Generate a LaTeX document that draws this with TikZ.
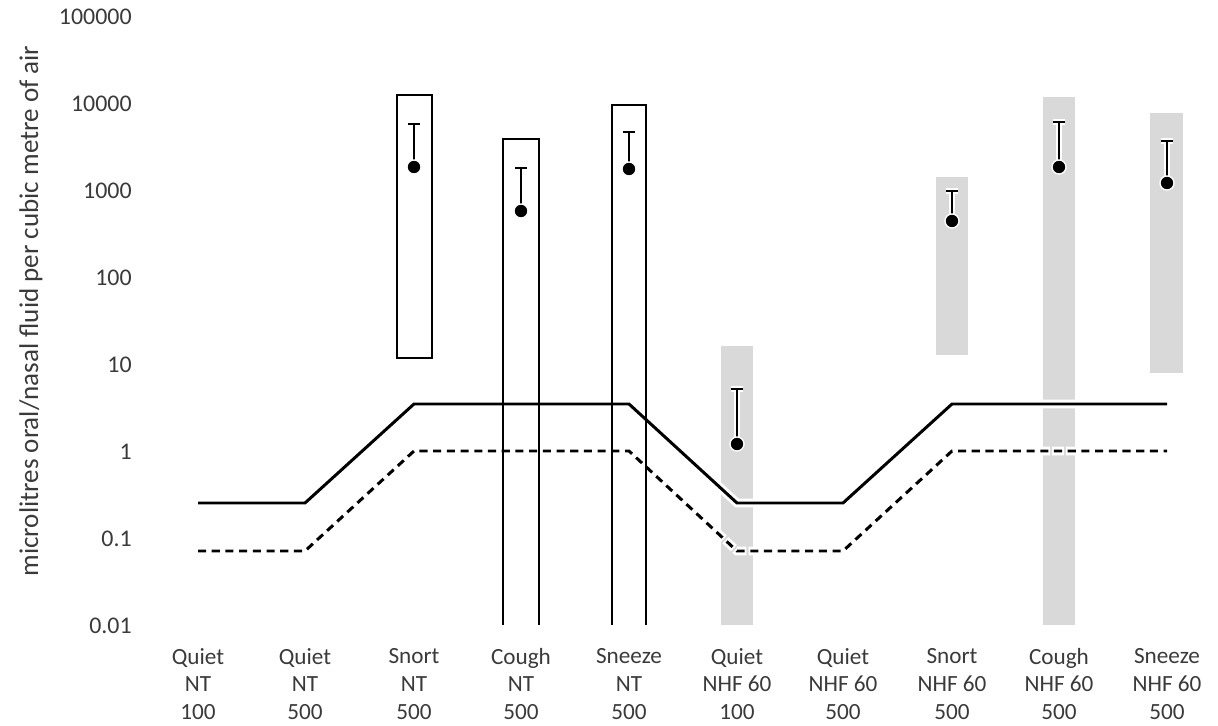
\documentclass[tikz,border=0pt]{standalone}
\usepackage{fontspec}
\setmainfont{Carlito}
\definecolor{boxgray}{HTML}{D9D9D9}
\definecolor{txt}{HTML}{3A3A3A}
\tikzset{
  ntbox/.style={draw=black, line width=1.5pt},
  nhfbox/.style={fill=boxgray, draw=none},
  limsolid/.style={line width=1.7pt, black, line join=miter, preaction={draw=white, line width=5pt}},
  limdash/.style={line width=1.7pt, black, dash pattern=on 4.6pt off 3.2pt, preaction={draw=white, line width=5pt, dash pattern=on 6.6pt off 1.2pt, dash phase=1pt}},
  errbar/.style={line width=1.1pt, black, preaction={draw=white, line width=3pt}},
  meandot/.style={circle, fill=black, draw=white, line width=0.8pt, inner sep=0pt, minimum size=8pt},
  ticklab/.style={anchor=east, text=txt, font=\fontsize{13.6}{15}\selectfont, inner sep=0pt},
  catlab/.style={align=center, text=txt, font=\fontsize{13.2}{15.8}\selectfont, inner sep=0pt},
  axtitle/.style={rotate=90, text=txt, font=\fontsize{15.4}{17}\selectfont, inner sep=0pt}
}
\begin{document}
\begin{tikzpicture}[x=0.02cm, y=-0.02cm]
\useasboundingbox (0,0) rectangle (1218,726);
% y tick labels (log scale, 87 px per decade, 0.01 at y=625)
\foreach \v [count=\k from 0] in {100000,10000,1000,100,10,1,0.1,0.01}
  \node[ticklab] (tick\k) at (132,{17+87*\k}) {\v};
% axis title
\node[axtitle] (ytitle) at (31,311) {microlitres oral/nasal fluid per cubic metre of air};
% NHF (grey) ranges
\fill[nhfbox] (721,346) rectangle (753,625);
\fill[nhfbox] (936,177) rectangle (968,355);
\fill[nhfbox] (1043,97) rectangle (1075,625);
\fill[nhfbox] (1150,113) rectangle (1183,373);
% limit lines
\draw[limdash] (198,551) -- (305,551) -- (414,451) -- (629,451) -- (737,551) -- (843,551) -- (952,451) -- (1167,451);
\draw[limsolid] (198,503) -- (305,503) -- (414,404) -- (629,404) -- (737,503) -- (843,503) -- (952,404) -- (1167,404);
% NT ranges
\draw[ntbox] (397,95) rectangle (432,358);
\draw[ntbox] (503,625) -- (503,139) -- (539,139) -- (539,625);
\draw[ntbox] (612,625) -- (612,105) -- (646,105) -- (646,625);
% error bars and means
\foreach \x/\m/\c [count=\i] in {414/167/124, 521/211/168, 629/169/132, 737/444/389, 952/221/191, 1059/167/122, 1167/183/141}{
  \draw[errbar] (\x,\m) -- (\x,\c) (\x-6,\c) -- (\x+6,\c);
  \node[meandot] (mean\i) at (\x,\m) {};
}
% category labels
\foreach \x/\a/\b/\c [count=\i] in {198/Quiet/NT/100, 305/Quiet/NT/500, 414/Snort/NT/500, 521/Cough/NT/500, 629/Sneeze/NT/500, 737/Quiet/NHF 60/100, 843/Quiet/NHF 60/500, 952/Snort/NHF 60/500, 1059/Cough/NHF 60/500, 1167/Sneeze/NHF 60/500}
  \node[catlab] (cat\i) at (\x,684) {\a\\\b\\\c};
\end{tikzpicture}
\end{document}
